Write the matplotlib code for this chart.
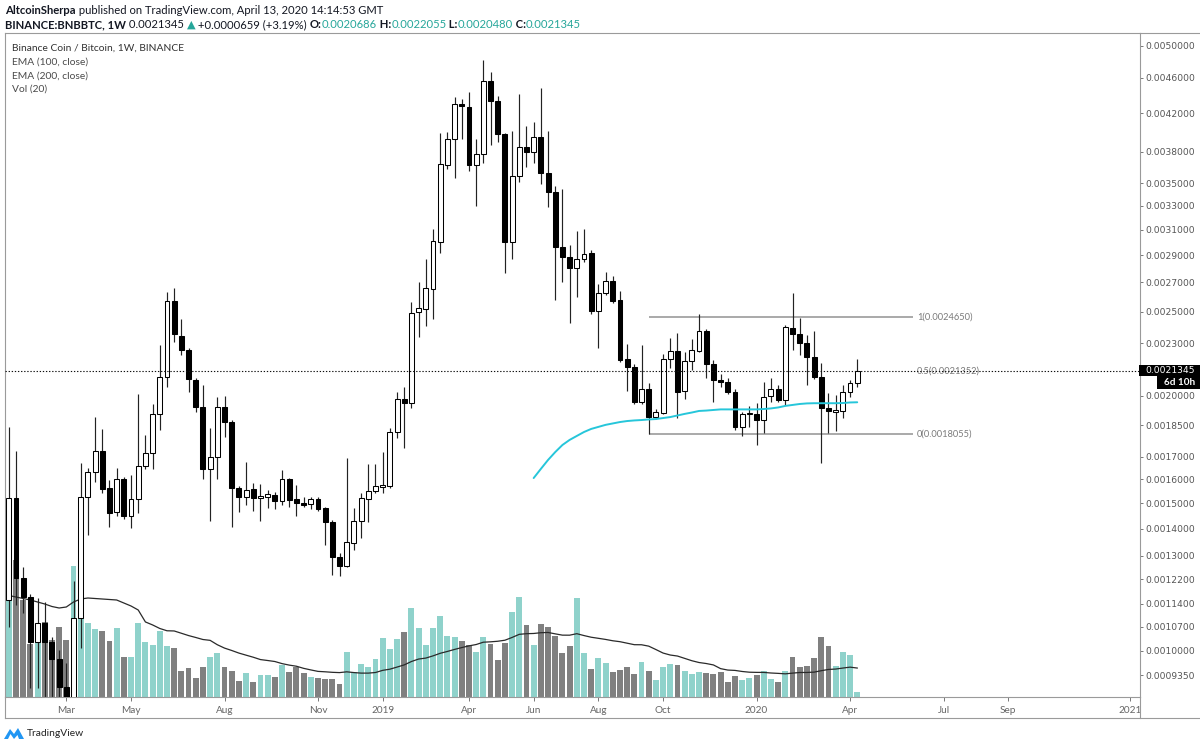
import numpy as np
import pandas as pd
import matplotlib
matplotlib.use('Agg')
import matplotlib.pyplot as plt
import matplotlib.dates as mdates
from matplotlib.patches import Rectangle, Polygon
from matplotlib.lines import Line2D
from matplotlib.transforms import Bbox
from matplotlib.ticker import NullLocator

plt.rcParams['font.family'] = ['Lato', 'DejaVu Sans']

# ---------------- data (weekly BNB/BTC candles, first bar week of 2018-01-01) ----------------
first_bar = '2018-01-01'

opens = [
    .001152, .001520, .001225, .001162, .001025, .001080, .001026, .000978, .000905, .000860,
    .001095, .001527, .001631, .001726, .001561, .001466, .001600, .001450, .001517, .001658,
    .001718, .001904, .002101, .002573, .002346, .002259, .002086, .001940, .001643, .001700,
    .001943, .001867, .001563, .001524, .001557, .001520, .001527, .001534, .001510, .001600,
    .001516, .001502, .001495, .001516, .001479, .001427, .001297, .001266, .001345, .001430,
    .001517, .001551, .001568, .001572, .001815, .001983, .001964, .002495, .002515, .002655,
    .003004, .003667, .003923, .004297, .004270, .003667, .003776, .004567, .004337, .003978,
    .003004, .003569, .003843, .003799, .003950, .003591, .003418, .002960, .002888, .002801,
    .002871, .002914, .002506, .002623, .002709, .002577, .002204, .002159, .001965, .002035,
    .001892, .001912, .002207, .002253, .002026, .002194, .002255, .002377, .002175, .002086,
    .002077, .002019, .001839, .001906, .001906, .001875, .001999, .002035, .001978, .002396,
    .002355, .002299, .002219, .002105, .001938, .001917, .001921, .002019, .0020686]

highs = [
    .001842, .001726, .001261, .001170, .001159, .001146, .001040, .001003, .000966, .001215,
    .001673, .001649, .001892, .001829, .001597, .001651, .001611, .001618, .002008, .001802,
    .001956, .002289, .002634, .002658, .002450, .002269, .002096, .002059, .001837, .001992,
    .001999, .001875, .001571, .001678, .001583, .001578, .001554, .001547, .001640, .001605,
    .001575, .001524, .001527, .001524, .001486, .001433, .001311, .001695, .001479, .001543,
    .001666, .001666, .001723, .001834, .002022, .002049, .002562, .002700, .002871, .003103,
    .003985, .004002, .004382, .004352, .004432, .003926, .004819, .004675, .004393, .003991,
    .004009, .004413, .004061, .004100, .004485, .004012, .003474, .003447, .002980, .003087,
    .003103, .002939, .002686, .002772, .002748, .002639, .002295, .002175, .002289, .002070,
    .001930, .002235, .002330, .002361, .002249, .002324, .002484, .002385, .002200, .002120,
    .002096, .002037, .001917, .001947, .001961, .002073, .002099, .002059, .002410, .002627,
    .002460, .002350, .002377, .002181, .002017, .002005, .002059, .002086, .0022055]

lows = [
    .001070, .001136, .001111, .000902, .000902, .000880, .000875, .000870, .000840, .000845,
    .001008, .001376, .001589, .001541, .001405, .001449, .001437, .001401, .001459, .001643,
    .001643, .001826, .002046, .002305, .002229, .002019, .001914, .001600, .001430, .001601,
    .001794, .001407, .001463, .001493, .001470, .001429, .001479, .001475, .001493, .001483,
    .001449, .001486, .001475, .001470, .001339, .001234, .001230, .001260, .001321, .001364,
    .001427, .001543, .001543, .001561, .001789, .001739, .001935, .002340, .002409, .002450,
    .002918, .003634, .003545, .003923, .003613, .003300, .003692, .003866, .003899, .002765,
    .002868, .003513, .003653, .003692, .003493, .003286, .002577, .002704, .002424, .002598,
    .002850, .002482, .002269, .002612, .002555, .002190, .002026, .001956, .001956, .0018055,
    .001879, .001904, .002152, .001884, .001982, .002142, .002249, .002096, .001969, .002046,
    .002008, .001826, .001798, .001842, .001754, .001810, .001969, .001969, .001952, .002259,
    .002229, .002059, .002090, .001670, .001810, .001822, .001887, .001992, .0020480]

closes = [
    .001520, .001225, .001162, .001025, .001080, .001025, .000978, .000903, .000860, .001095,
    .001527, .001632, .001726, .001558, .001462, .001600, .001450, .001517, .001658, .001718,
    .001904, .002101, .002573, .002355, .002259, .002090, .001940, .001643, .001700, .001943,
    .001867, .001563, .001524, .001554, .001520, .001529, .001536, .001510, .001600, .001513,
    .001500, .001493, .001516, .001475, .001424, .001295, .001266, .001349, .001430, .001520,
    .001551, .001571, .001575, .001815, .001983, .001964, .002489, .002522, .002658, .003011,
    .003676, .003929, .004300, .004278, .003667, .003776, .004567, .004337, .003978, .003004,
    .003569, .003849, .003799, .003950, .003591, .003418, .002960, .002888, .002801, .002873,
    .002906, .002506, .002623, .002709, .002573, .002200, .002157, .001965, .002035, .001890,
    .001914, .002207, .002253, .002022, .002194, .002259, .002377, .002175, .002086, .002077,
    .002019, .001839, .001906, .001911, .001875, .001996, .002035, .001978, .002402, .002356,
    .002299, .002216, .002101, .001935, .001921, .001926, .002019, .002068, .0021345]

# volume (relative units)
volumes = [
    112, 137, 97, 52.7, 72, 75, 57, 70.3, 57, 131.3,
    97, 73.7, 68, 66.3, 56.5, 68.7, 40.3, 40.3, 74.3, 54.7,
    52, 66.3, 51.3, 48.7, 26.3, 28.7, 18.7, 29.7, 40.3, 43.7,
    29.7, 26, 16, 24.5, 15.3, 21.7, 21.7, 20.3, 32.3, 24.7,
    29.7, 24, 19.7, 19.3, 18, 18.3, 13, 45.3, 25.3, 33,
    29.7, 38, 59.3, 47.7, 57.7, 65.3, 89.3, 69.5, 51.7, 68.7,
    81.3, 61, 60.3, 56, 52, 45.3, 59.7, 52.7, 36.7, 53.7,
    85.3, 100.3, 72, 52, 73, 70.3, 61.3, 43.7, 51, 98.7,
    43.7, 27.7, 38.7, 33.7, 25.3, 26.7, 29.7, 22.7, 35.3, 26,
    17.3, 30, 32.7, 31.7, 26.3, 23.3, 25.3, 23.7, 22.7, 24.7,
    15.3, 20.7, 17.3, 19.3, 21.7, 26, 18, 15.3, 26, 40,
    30, 30.7, 39.3, 60.3, 51.3, 31.3, 45.3, 42, 4.7]
# Vol(20) MA values read for the first 19 bars (history before the visible range)
vol_ma_head = [101.5, 100, 98.5, 97, 95, 93, 90.5, 89, 90, 95,
               98, 99, 98.5, 98, 97.5, 97, 94, 91, 87]

# EMA(100, close) - visible from week of 2019-05-27 (bar 73) onward
ema100_first = 73
ema100 = [.001605, .001645, .001685, .001721, .001754, .001778, .001797, .001816, .001831, .001841,
          .001851, .001858, .001865, .001870, .001873, .001875, .001878, .001880, .001885, .001890,
          .001898, .001906, .001913, .001921, .001923, .001926, .001929, .001929, .001929, .001929,
          .001929, .001929, .001931, .001934, .001939, .001947, .001952, .001957, .001960, .001961,
          .001961, .001961, .001961, .001962, .001965, .001966]

fib_levels = ['1', '0.5', '0']
fib_prices = [0.0024650, 0.0021352, 0.0018055]
last_price = 0.0021345

ytick_vals = [0.0050, 0.0046, 0.0042, 0.0038, 0.0035, 0.0033, 0.0031, 0.0029, 0.0027,
              0.0025, 0.0023, 0.0020, 0.00185, 0.0017, 0.0016, 0.0015, 0.0014, 0.0013,
              0.00122, 0.00114, 0.00107, 0.0010, 0.000935]
xtick_months = ['2018-03', '2018-05', '2018-08', '2018-11', '2019-01', '2019-04', '2019-06',
                '2019-08', '2019-10', '2020-01', '2020-04', '2020-07', '2020-09', '2021-01']
xtick_labels = ['Mar', 'May', 'Aug', 'Nov', '2019', 'Apr', 'Jun', 'Aug', 'Oct', '2020',
                'Apr', 'Jul', 'Sep', '2021']

# ---------------- layout helpers ----------------
W, H = 1200, 748
def fx(px):
    return px / W
def fy(py):
    return 1 - py / H

PL, PT, PR, PB = 5, 33, 1140, 697          # price pane in pixels
BAR0_PX, BAR_STEP = 8.8, 7.19
PPD = BAR_STEP / 7.0                      # pixels per day

n = len(opens)
dates = pd.date_range(first_bar, periods=n, freq='7D')
x = mdates.date2num(dates)
x0 = x[0]
def px_to_x(px):
    return x0 + (px - BAR0_PX) / PPD

o = np.array(opens); h = np.array(highs); l = np.array(lows); c = np.array(closes)
up = c >= o

fig = plt.figure(figsize=(12, 7.48), dpi=100, facecolor='white')
rect = [fx(PL), fy(PB), (PR - PL) / W, (PB - PT) / H]
ax_v = fig.add_axes(rect, zorder=0)
ax = fig.add_axes(rect, zorder=1)
ax.patch.set_visible(False)
xl = (px_to_x(PL), px_to_x(PR))

# ---------------- volume ----------------
vol = np.array(volumes, dtype=float)
vcol = np.where(up, '#8fd2cb', '#808080')
ax_v.bar(x, vol, width=5.9 / PPD, color=vcol, edgecolor='none')
ma = pd.Series(vol).rolling(20).mean().to_numpy()
ma[:len(vol_ma_head)] = vol_ma_head
ax_v.plot(x, ma, color='#2a2a2a', lw=0.9)
ax_v.set_xlim(*xl)
ax_v.set_ylim(0, PB - PT)
ax_v.axis('off')

# ---------------- price pane ----------------
def fwd(p):
    return np.log(np.maximum(np.asarray(p, dtype=float) + 1e-4, 1e-9))
def inv(y):
    return np.exp(y) - 1e-4
ax.set_yscale('function', functions=(fwd, inv))
ax.set_ylim(0.0008789, 0.0051668)
ax.set_xlim(*xl)

ax.vlines(x, l, h, color='#222222', lw=0.85, zorder=2)
body_lo = np.minimum(o, c)
body_hi = np.maximum(o, c)
ax.bar(x, body_hi - body_lo, bottom=body_lo, width=4.9 / PPD,
       color=np.where(up, 'white', 'black'), edgecolor='black', linewidth=0.75, zorder=3)

ema_x = x[ema100_first:ema100_first + len(ema100)]
ax.plot(ema_x, ema100, color='#26c6da', lw=1.4, zorder=4, solid_capstyle='round')

# fib retracement
fib_x0 = x[89]
fib_x1 = px_to_x(913)
for lev, p in zip(fib_levels, fib_prices):
    if lev != '0.5':
        ax.hlines(p, fib_x0, fib_x1, color='#a3a3a3', lw=1.3, zorder=1)
    ax.text(px_to_x(917), p, f'{lev}({p:.7f})', color='#7a7a7a', fontsize=6.7,
            va='center', ha='left', zorder=5)

# last price dotted line
ax.axhline(last_price, color='#111111', lw=0.8, ls=(0, (1.2, 1.6)), zorder=5)

# axes styling
for s in ax.spines.values():
    s.set_color('#9a9a9a')
    s.set_linewidth(0.8)
ax.yaxis.tick_right()
ax.set_yticks(ytick_vals)
ax.set_yticklabels([f'{v:.7f}' for v in ytick_vals])
ax.yaxis.set_minor_locator(NullLocator())
ax.tick_params(axis='y', length=2.4, width=0.7, color='#777777', labelcolor='#555555',
               labelsize=6.6, pad=1.6)
for lab in ax.get_yticklabels():
    lab.set_family('DejaVu Sans')

tick_pos = []
for m in xtick_months:
    d = pd.Timestamp(m + '-01') - pd.Timedelta(days=1)
    d = d - pd.Timedelta(days=d.weekday())
    tick_pos.append(mdates.date2num(d))
ax.set_xticks(tick_pos)
ax.set_xticklabels(xtick_labels)
ax.xaxis.set_minor_locator(NullLocator())
ax.tick_params(axis='x', length=3, width=0.7, color='#777777', labelcolor='#666666',
               labelsize=7.2, pad=3.5)
clipbox = Bbox([[PL, H - 718], [PR, H - PB]])
for lab in ax.get_xticklabels():
    lab.set_clip_box(clipbox)
    lab.set_clip_on(True)

# outer frame lines (time axis bottom)
fig.add_artist(Line2D([fx(PL), fx(1200)], [fy(718), fy(718)], color='#9a9a9a', lw=0.8))
fig.add_artist(Line2D([fx(PL), fx(PL)], [fy(PB), fy(718)], color='#9a9a9a', lw=0.8))
fig.add_artist(Line2D([fx(PR), fx(PR)], [fy(PB), fy(718)], color='#9a9a9a', lw=0.8))
fig.add_artist(Line2D([fx(PR), fx(1200)], [fy(PT), fy(PT)], color='#9a9a9a', lw=0.8))

# current price & countdown boxes on the price scale
fig.add_artist(Rectangle((fx(1139), fy(376)), (1200 - 1139) / W, 11 / H,
                         facecolor='black', edgecolor='none', zorder=10))
fig.text(fx(1145), fy(370.5), f'{last_price:.7f}', color='white', fontsize=6.6,
         family='DejaVu Sans', va='center', ha='left', zorder=11)
fig.add_artist(Rectangle((fx(1157), fy(389)), (1200 - 1157) / W, 13 / H,
                         facecolor='black', edgecolor='none', zorder=10))
fig.text(fx(1164), fy(382.5), '6d 10h', color='white', fontsize=7.2, fontweight='bold',
         va='center', ha='left', zorder=11)

# ---------------- header ----------------
renderer = fig.canvas.get_renderer()
def seg_text(x_px, y_px, segs, size):
    xp = x_px
    for s, weight, color in segs:
        t = fig.text(fx(xp), fy(y_px), s, fontsize=size, fontweight=weight, color=color,
                     va='center', ha='left')
        xp += t.get_window_extent(renderer).width

dark = '#131722'
teal = '#26a69a'
seg_text(5, 10, [('AltcoinSherpa', 'bold', dark),
                 (' published on TradingView.com, April 13, 2020 14:14:53 GMT', 'normal', dark)], 8.15)
seg_text(5, 24.5, [('BINANCE:BNBBTC, 1W', 'bold', dark),
                   (' 0.0021345 ', 'normal', dark),
                   ('\u25b2', 'normal', teal),
                   (' +0.0000659 (+3.19%) ', 'normal', dark),
                   ('O:', 'bold', dark), ('0.0020686', 'normal', teal),
                   (' H:', 'bold', dark), ('0.0022055', 'normal', teal),
                   (' L:', 'bold', dark), ('0.0020480', 'normal', teal),
                   (' C:', 'bold', dark), ('0.0021345', 'normal', teal)], 8.15)

legend_lines = ['Binance Coin / Bitcoin, 1W, BINANCE', 'EMA (100, close)', 'EMA (200, close)', 'Vol (20)']
for k, s in enumerate(legend_lines):
    fig.text(fx(12.5), fy(48.3 + 13.7 * k), s, fontsize=7.4, color='#4a4a4a' if k else '#333333',
             va='center', ha='left')

# TradingView logo
fig.add_artist(Polygon([[fx(4), fy(739)], [fx(10), fy(729)], [fx(14), fy(734)], [fx(18), fy(728)],
                        [fx(24), fy(739)], [fx(19), fy(739)], [fx(17.5), fy(735)],
                        [fx(14), fy(739)], [fx(10.5), fy(734)], [fx(8), fy(739)]],
                       closed=True, facecolor='#2196f3', edgecolor='none'))
fig.text(fx(27), fy(733), 'TradingView', fontsize=7.4, color='#222222', va='center', ha='left')

fig.savefig('out.png', dpi=100, facecolor='white')
